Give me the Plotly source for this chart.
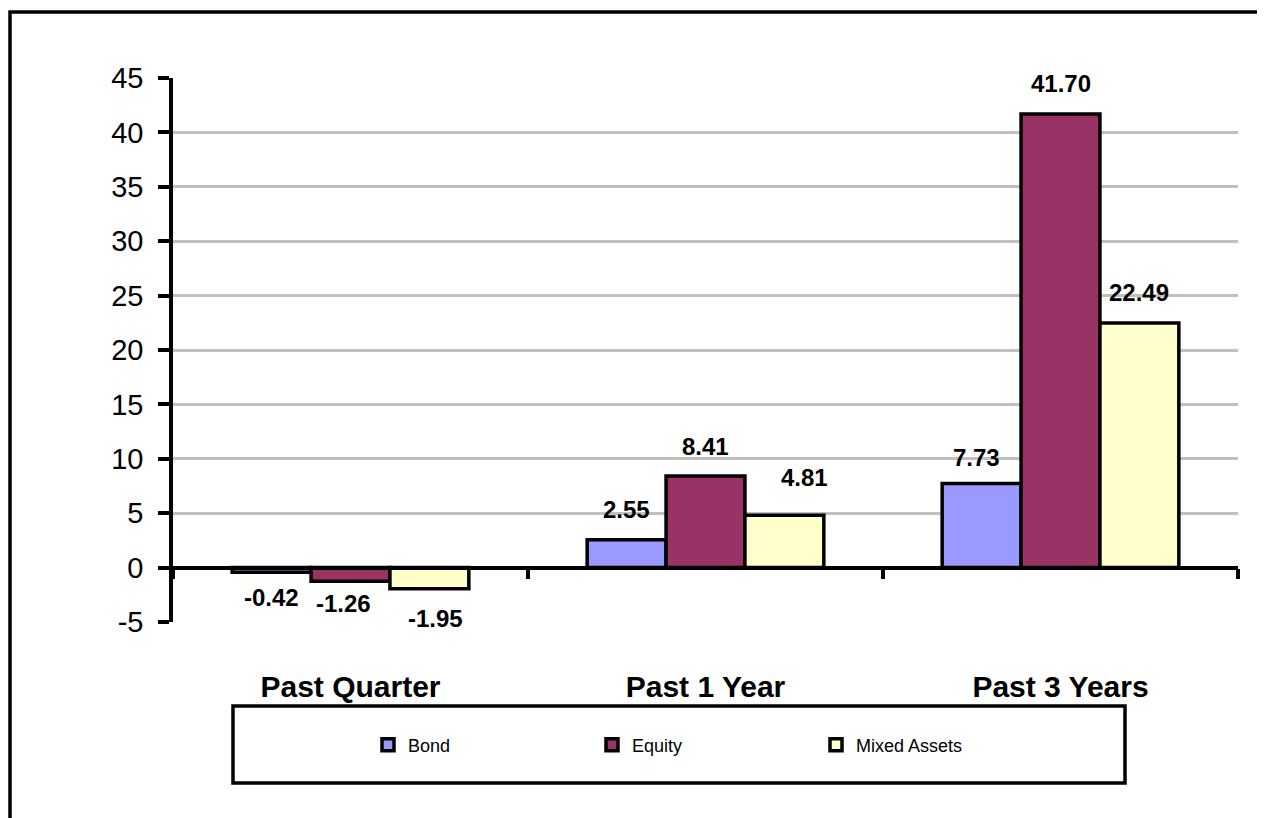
import plotly.graph_objects as go

# ---- data ----
categories = ["Past Quarter", "Past 1 Year", "Past 3 Years"]
series_names = ["Bond", "Equity", "Mixed Assets"]
bond = [-0.42, 2.55, 7.73]
equity = [-1.26, 8.41, 41.70]
mixed = [-1.95, 4.81, 22.49]
y_ticks = [-5, 0, 5, 10, 15, 20, 25, 30, 35, 40, 45]

colors = ["#9999FF", "#993366", "#FFFFCC"]
FONT = "Arial, 'Liberation Sans', sans-serif"

# small manual nudges (pixels, +dy = down) of individual data labels, as in the original:
# (series, category) -> (dx, dy)
label_nudge = {
    (1, 0): (-7, -3),
    (2, 0): (6, 5),
    (2, 1): (20, -8),
    (0, 2): (-5, 4),
}

# page body has an 8px margin; size the figure so it fills the window
OFF = 8
W, H = 1265 - OFF, 818 - OFF
# plot area in window pixels: x 173..1238, y 78..622
PL, PR, PT, PB = 173, 1238, 78, 622
ML, MR, MT, MB = PL - OFF, 1265 - PR, PT - OFF, 818 - PB
PW = PR - PL
PH = PB - PT


def px_x(px):
    return (px - PL) / PW


def px_y(py):
    return (PB - py) / PH


fig = go.Figure()
for name, vals, col in zip(series_names, [bond, equity, mixed], colors):
    fig.add_trace(go.Bar(
        name=name, x=categories, y=vals,
        marker=dict(color=col, line=dict(color="black", width=3.5)),
        hoverinfo="x+y+name",
    ))

# data labels as annotations, offset per series to sit on each bar
n = len(series_names)
ymin, ymax = -5, 45
bar_px = PW / len(categories) * (1 - 1 / 3) / n
for si, vals in enumerate([bond, equity, mixed]):
    for ci, v in enumerate(vals):
        dx, dy = label_nudge.get((si, ci), (0, 0))
        fig.add_annotation(
            x=categories[ci], y=v, xref="x", yref="y",
            text=f"{v:.2f}", showarrow=False,
            xshift=(si - (n - 1) / 2) * bar_px + dx,
            yshift=(30 if v >= 0 else -25) - dy,
            yanchor="middle", xanchor="center",
            font=dict(family=FONT, size=24, color="black", weight="bold"),
        )

zero_pos = (0 - ymin) / (ymax - ymin)

fig.update_layout(
    width=W, height=H,
    margin=dict(l=ML, r=MR, t=MT, b=MB, autoexpand=False),
    paper_bgcolor="white", plot_bgcolor="white",
    barmode="group", bargap=1 / 3, bargroupgap=0,
    font=dict(family=FONT, color="black"),
    xaxis=dict(
        type="category", anchor="free", position=zero_pos,
        showline=True, linecolor="black", linewidth=3.5,
        ticks="outside", tickson="boundaries", ticklen=10, tickwidth=3.5, tickcolor="black",
        ticklabelstandoff=92,
        tickfont=dict(family=FONT, size=30, color="black", weight="bold"),
        showgrid=False, zeroline=False,
    ),
    yaxis=dict(
        range=[ymin, ymax], tickvals=y_ticks, ticktext=[str(t) for t in y_ticks],
        showline=True, linecolor="black", linewidth=3.5,
        ticks="outside", ticklen=11, tickwidth=3.5, tickcolor="black",
        ticklabelstandoff=9,
        tickfont=dict(family=FONT, size=29, color="black"),
        showgrid=True, gridcolor="#C0C0C0", gridwidth=3,
        zeroline=False,
    ),
    legend=dict(
        orientation="h", xref="container", yref="container",
        x=(368 - OFF) / W, xanchor="left", y=1 - (745 - OFF) / H, yanchor="middle",
        entrywidth=179, entrywidthmode="pixels",
        font=dict(family=FONT, size=18, color="black"),
        bgcolor="rgba(0,0,0,0)", borderwidth=0,
        traceorder="normal",
    ),
    shapes=[
        # legend box
        dict(type="rect", xref="paper", yref="paper",
             x0=px_x(233), x1=px_x(1125), y0=px_y(783), y1=px_y(706),
             line=dict(color="black", width=3.5), fillcolor="rgba(0,0,0,0)", layer="below"),
        # outer chart border (right/bottom edges fall outside the view)
        dict(type="rect", xref="paper", yref="paper",
             x0=px_x(10), x1=px_x(1285), y0=px_y(840), y1=px_y(12),
             line=dict(color="black", width=3.5), fillcolor="rgba(0,0,0,0)", layer="below"),
    ],
)

fig.write_html("out.html")
